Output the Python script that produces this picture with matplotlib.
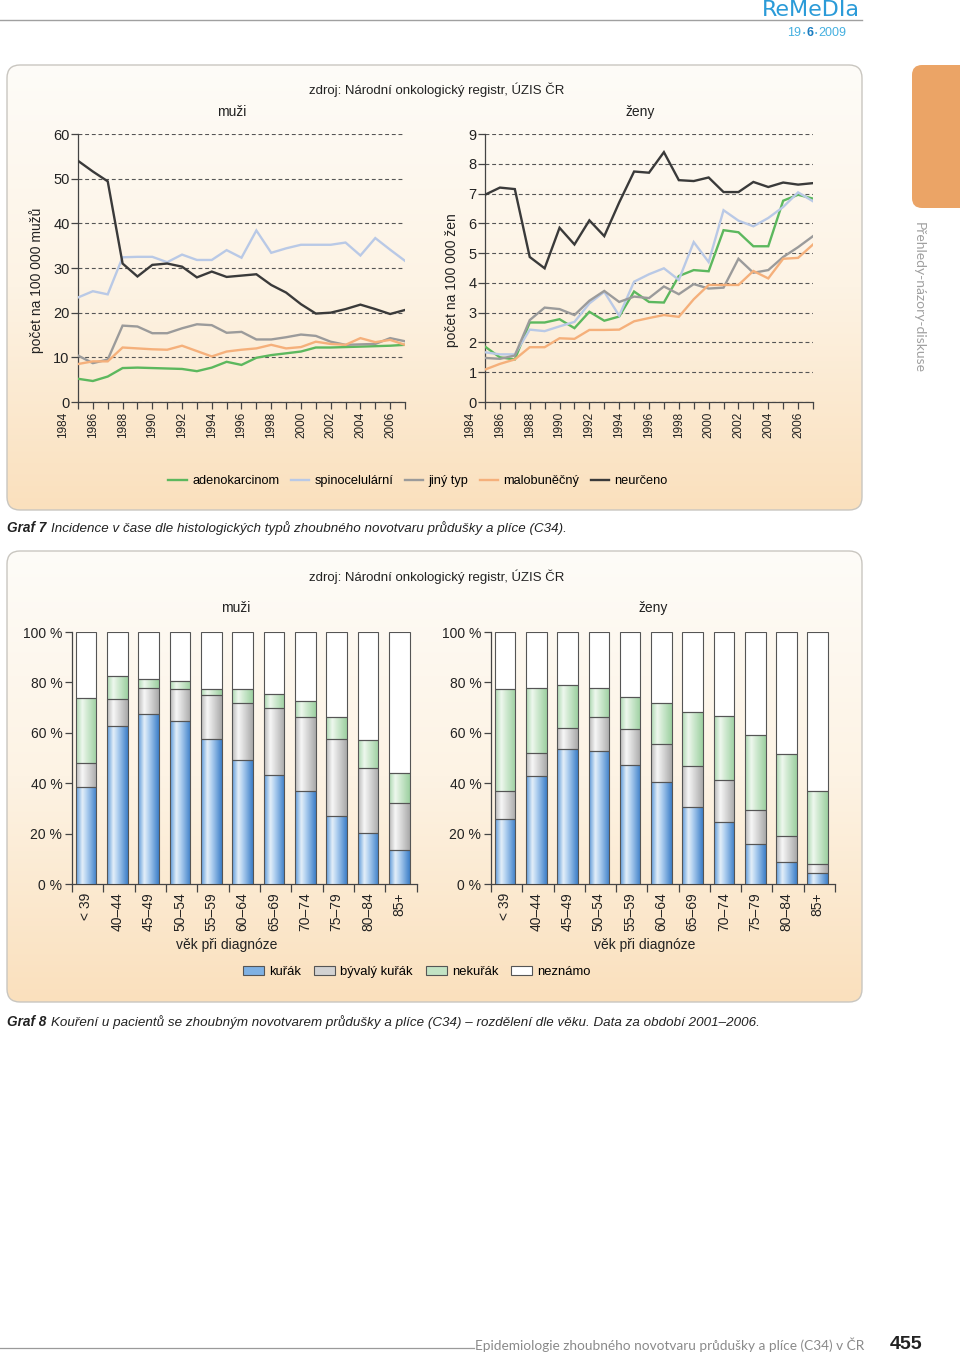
import numpy as np
import matplotlib
matplotlib.use('Agg')
import matplotlib.pyplot as plt
from matplotlib.patches import FancyBboxPatch, Patch
from matplotlib.lines import Line2D
from matplotlib.colors import LinearSegmentedColormap

plt.rcParams['font.family'] = ['Liberation Sans', 'DejaVu Sans']

# ---------------- DATA ----------------
years = list(range(1984, 2007))
year_labels = list(range(1984, 2007, 2))

men_adeno = [5.2, 4.7, 5.7, 7.6, 7.7, 7.6, 7.5, 7.4, 6.9, 7.7, 9.0, 8.3, 9.9, 10.5, 10.9, 11.3, 12.2, 12.2, 12.3, 12.4, 12.5, 12.6, 12.8]
men_spino = [23.4, 24.8, 24.1, 32.4, 32.5, 32.5, 31.3, 33.0, 31.8, 31.8, 34.0, 32.3, 38.4, 33.4, 34.4, 35.2, 35.2, 35.2, 35.7, 32.8, 36.7, 34.1, 31.6]
men_jiny = [10.4, 8.7, 9.5, 17.1, 16.9, 15.4, 15.4, 16.5, 17.4, 17.2, 15.5, 15.7, 14.0, 14.0, 14.5, 15.1, 14.8, 13.5, 12.8, 12.9, 13.0, 14.3, 13.6]
men_malob = [8.5, 9.1, 9.1, 12.2, 12.0, 11.8, 11.7, 12.6, 11.4, 10.2, 11.3, 11.7, 12.0, 12.8, 12.0, 12.3, 13.5, 13.0, 12.8, 14.3, 13.4, 13.9, 12.8]
men_neurc = [54.0, 51.6, 49.4, 31.0, 28.1, 30.7, 31.0, 30.3, 27.9, 29.2, 28.0, 28.3, 28.6, 26.2, 24.5, 21.9, 19.8, 20.0, 20.8, 21.8, 20.8, 19.7, 20.6]

women_adeno = [1.86, 1.5, 1.43, 2.67, 2.67, 2.78, 2.48, 3.03, 2.73, 2.87, 3.71, 3.36, 3.34, 4.23, 4.43, 4.39, 5.77, 5.7, 5.23, 5.23, 6.76, 6.96, 6.83]
women_spino = [1.67, 1.6, 1.6, 2.43, 2.38, 2.54, 2.69, 3.31, 3.7, 2.9, 4.04, 4.29, 4.49, 4.1, 5.37, 4.7, 6.44, 6.09, 5.9, 6.18, 6.55, 7.04, 6.74]
women_jiny = [1.48, 1.45, 1.56, 2.75, 3.17, 3.12, 2.92, 3.4, 3.73, 3.36, 3.54, 3.49, 3.88, 3.62, 3.96, 3.81, 3.84, 4.81, 4.34, 4.43, 4.87, 5.2, 5.57]
women_malob = [1.09, 1.28, 1.43, 1.84, 1.84, 2.14, 2.12, 2.42, 2.42, 2.43, 2.71, 2.82, 2.92, 2.86, 3.45, 3.93, 3.93, 3.93, 4.4, 4.15, 4.81, 4.84, 5.29]
women_neurc = [6.96, 7.2, 7.15, 4.87, 4.49, 5.85, 5.29, 6.1, 5.57, 6.7, 7.74, 7.7, 8.39, 7.45, 7.42, 7.54, 7.05, 7.05, 7.39, 7.22, 7.37, 7.3, 7.35]

hist_types = ['adenokarcinom', 'spinocelulární', 'jiný typ', 'malobuněčný', 'neurčeno']
hist_colors = ['#5cb85e', '#b9c9e6', '#9b9b9b', '#f5b07b', '#3a3a3a']

age_groups = ['< 39', '40–44', '45–49', '50–54', '55–59', '60–64', '65–69', '70–74', '75–79', '80–84', '85+']
men_smoker = [38.3, 62.6, 67.6, 64.5, 57.7, 49.4, 43.1, 36.9, 27.1, 20.1, 13.5]
men_former = [9.8, 11.0, 10.2, 12.8, 17.2, 22.6, 26.9, 29.2, 30.6, 26.0, 18.5]
men_nonsmoker = [25.6, 9.1, 3.7, 3.2, 2.6, 5.5, 5.2, 6.4, 8.4, 11.2, 11.9]
women_smoker = [25.6, 42.8, 53.4, 52.7, 47.4, 40.3, 30.6, 24.8, 15.7, 8.6, 4.5]
women_former = [11.4, 9.2, 8.7, 13.7, 14.3, 15.4, 16.4, 16.3, 13.5, 10.6, 3.4]
women_nonsmoker = [40.3, 25.8, 16.8, 11.5, 12.7, 16.3, 21.2, 25.7, 30.0, 32.2, 29.2]
smoke_cats = ['kuřák', 'bývalý kuřák', 'nekuřák', 'neznámo']

source_text = 'zdroj: Národní onkologický registr, ÚZIS ČR'

# ---------------- FIGURE ----------------
W, H = 960, 1355
fig = plt.figure(figsize=(W / 100, H / 100), dpi=100)
bg = fig.add_axes([0, 0, 1, 1], zorder=0)
bg.set_xlim(0, W)
bg.set_ylim(H, 0)
bg.axis('off')


def axes_px(l, t, r, b):
    ax = fig.add_axes([l / W, 1 - b / H, (r - l) / W, (b - t) / H], zorder=2)
    ax.patch.set_alpha(0)
    return ax


panel_cmap = LinearSegmentedColormap.from_list('panel', ['#fefcf8', '#fdf3e4', '#fae0bd'])


def panel(x0, y0, x1, y1):
    p = FancyBboxPatch((x0, y0), x1 - x0, y1 - y0,
                       boxstyle='round,pad=0,rounding_size=13',
                       fc='none', ec='#c9c6c0', lw=1.0, zorder=3)
    bg.add_patch(p)
    grad = np.linspace(0, 1, 256).reshape(-1, 1)
    im = bg.imshow(grad, extent=[x0, x1, y1, y0], cmap=panel_cmap,
                   aspect='auto', origin='upper', zorder=1)
    im.set_clip_path(p)


panel(7, 65, 862, 510)
panel(7, 551, 862, 1002)
bg.set_xlim(0, W)
bg.set_ylim(H, 0)

# header
bg.plot([0, 862], [20, 20], color='#a0a0a0', lw=1.0)
bg.text(860, 16, 'ReMeDIa', color='#2b9bd8', fontsize=16, ha='right', va='baseline',
        family=['DejaVu Sans'])
bg.text(787, 36, '19', color='#45b0e0', fontsize=9, ha='left', va='baseline')
bg.text(803.5, 34.5, '•', color='#45b0e0', fontsize=5, ha='center', va='baseline')
bg.text(806.5, 36, '6', color='#1b7cc0', fontsize=9, fontweight='bold', ha='left', va='baseline')
bg.text(815.5, 34.5, '•', color='#45b0e0', fontsize=5, ha='center', va='baseline')
bg.text(818, 36, '2009', color='#45b0e0', fontsize=9, ha='left', va='baseline')

# side tab
tab = FancyBboxPatch((912, 65), 70, 143, boxstyle='round,pad=0,rounding_size=10',
                     fc='#eba466', ec='none', zorder=2)
bg.add_patch(tab)
bg.text(919, 222, 'Přehledy-názory-diskuse', rotation=270, ha='center', va='top',
        fontsize=10, color='#a0a0a0', family=['Lato', 'DejaVu Sans'])

# footer
bg.plot([0, 474], [1348, 1348], color='#9a9a9a', lw=0.9)
bg.text(475, 1350, 'Epidemiologie zhoubného novotvaru průdušky a plíce (C34) v ČR',
        fontsize=9.8, color='#8a8a8a', ha='left', va='baseline', family=['Lato', 'DejaVu Sans'])
bg.text(890, 1349, '455', fontsize=14, fontweight='bold', color='#222222', ha='left', va='baseline')

# ---------------- TOP PANEL: line charts ----------------
bg.text(437, 90, source_text, fontsize=9.5, ha='center', va='center', color='#222')
bg.text(232, 112, 'muži', fontsize=10, ha='center', va='center', color='#222')
bg.text(640, 112, 'ženy', fontsize=10, ha='center', va='center', color='#222')
bg.text(37, 280, 'počet na 100 000 mužů', rotation=90, fontsize=10, ha='center', va='center', color='#222')
bg.text(452, 280, 'počet na 100 000 žen', rotation=90, fontsize=10, ha='center', va='center', color='#222')


def line_chart(ax, series, ymax, ystep):
    for vals, col in zip(series, hist_colors):
        ax.plot(years, vals, color=col, lw=1.7, solid_joinstyle='miter', zorder=3)
    ax.set_xlim(years[0], years[-1])
    ax.set_ylim(0, ymax)
    ax.set_yticks(np.arange(0, ymax + 0.1, ystep))
    ax.set_xticks(years)
    ax.set_xticklabels([])
    for s in ['top', 'right']:
        ax.spines[s].set_visible(False)
    for s in ['left', 'bottom']:
        ax.spines[s].set_color('#444444')
        ax.spines[s].set_linewidth(0.9)
    ax.tick_params(axis='y', length=5, width=0.9, color='#444444', labelsize=10.5, pad=1, labelcolor='#222')
    ax.tick_params(axis='x', length=5, width=0.9, color='#444444')
    ax.yaxis.grid(True, color='#555555', lw=0.8, ls=(0, (3.5, 2.5)))
    ax.set_axisbelow(True)
    for lab in year_labels:
        ax.annotate(str(lab), xy=(lab - 1, 0), xycoords=('data', 'axes fraction'),
                    xytext=(0, -7), textcoords='offset points', rotation=90,
                    ha='center', va='top', fontsize=8.5, color='#222', annotation_clip=False)


ax1 = axes_px(78, 134, 405, 402)
line_chart(ax1, [men_adeno, men_spino, men_jiny, men_malob, men_neurc], 60, 10)
ax2 = axes_px(485, 134, 813, 402)
line_chart(ax2, [women_adeno, women_spino, women_jiny, women_malob, women_neurc], 9, 1)

handles = [Line2D([], [], color=c, lw=1.7) for c in hist_colors]
fig.legend(handles, hist_types, loc='center', bbox_to_anchor=(418 / W, 1 - 481 / H),
           ncol=5, frameon=False, fontsize=9.2, handlelength=1.45, handletextpad=0.4,
           columnspacing=0.9)

# caption 7
bg.text(7, 528, 'Graf 7', fontsize=9.8, fontweight='bold', style='italic', ha='left', va='center', color='#222')
bg.text(51, 528, 'Incidence v čase dle histologických typů zhoubného novotvaru průdušky a plíce (C34).',
        fontsize=9.6, style='italic', ha='left', va='center', color='#222')

# ---------------- BOTTOM PANEL: stacked bars ----------------
bg.text(437, 577, source_text, fontsize=9.5, ha='center', va='center', color='#222')
bg.text(236, 608, 'muži', fontsize=10, ha='center', va='center', color='#222')
bg.text(653, 608, 'ženy', fontsize=10, ha='center', va='center', color='#222')
bg.text(227, 945, 'věk při diagnóze', fontsize=10, ha='center', va='center', color='#222')
bg.text(645, 945, 'věk při diagnóze', fontsize=10, ha='center', va='center', color='#222')

grad_maps = [
    LinearSegmentedColormap.from_list('b', [(0, '#5b98d8'), (0.3, '#e4eff9'), (0.55, '#a9cbee'), (1, '#3d7fc8')]),
    LinearSegmentedColormap.from_list('g', [(0, '#b8b8b8'), (0.3, '#f7f7f7'), (0.55, '#dcdcdc'), (1, '#a9a9a9')]),
    LinearSegmentedColormap.from_list('n', [(0, '#acd8b0'), (0.3, '#eef8ee'), (0.55, '#cfe9d0'), (1, '#9dd0a1')]),
    LinearSegmentedColormap.from_list('w', ['#ffffff', '#ffffff']),
]


def bar_chart(ax, smoker, former, nonsmoker):
    x = np.arange(len(age_groups))
    unknown = [100 - a - b - c for a, b, c in zip(smoker, former, nonsmoker)]
    bottom = np.zeros(len(x))
    grad = np.linspace(0, 1, 64).reshape(1, -1)
    for vals, cm in zip([smoker, former, nonsmoker, unknown], grad_maps):
        bars = ax.bar(x, vals, bottom=bottom, width=0.66, color='none',
                      edgecolor='#555555', lw=0.8, zorder=4)
        for r in bars:
            bx, by = r.get_x(), r.get_y()
            im = ax.imshow(grad, extent=[bx, bx + r.get_width(), by, by + r.get_height()],
                           cmap=cm, aspect='auto', zorder=3, interpolation='bilinear')
            im.set_clip_path(r)
        bottom = bottom + np.array(vals)
    ax.set_xlim(-0.45, 10.55)
    ax.set_ylim(0, 100)
    ax.set_aspect('auto')
    ax.set_yticks([0, 20, 40, 60, 80, 100])
    ax.set_yticklabels(['0 %', '20 %', '40 %', '60 %', '80 %', '100 %'])
    ax.set_xticks(np.arange(-0.45, 10.6, 1.0))
    ax.set_xticklabels([])
    for i, lab in enumerate(age_groups):
        ax.annotate(lab, xy=(i, 0), xycoords=('data', 'axes fraction'), xytext=(0, -6),
                    textcoords='offset points', rotation=90, ha='center', va='top',
                    fontsize=10, color='#222', annotation_clip=False)
    for s in ['top', 'right']:
        ax.spines[s].set_visible(False)
    for s in ['left', 'bottom']:
        ax.spines[s].set_color('#444444')
        ax.spines[s].set_linewidth(0.9)
    ax.tick_params(axis='y', length=5, width=0.9, color='#444444', labelsize=10, pad=2, labelcolor='#222')
    ax.tick_params(axis='x', length=6, width=0.9, color='#444444')


ax3 = axes_px(72, 632, 416.6, 884)
bar_chart(ax3, men_smoker, men_former, men_nonsmoker)
ax4 = axes_px(491, 632, 835, 884)
bar_chart(ax4, women_smoker, women_former, women_nonsmoker)

leg_cols = ['#7fb1e3', '#d2d2d2', '#c2e3c4', '#ffffff']
phandles = [Patch(facecolor=c, edgecolor='#555555', lw=0.8) for c in leg_cols]
fig.legend(phandles, smoke_cats, loc='center', bbox_to_anchor=(417 / W, 1 - 972 / H),
           ncol=4, frameon=False, fontsize=9.4, handlelength=1.6, handleheight=0.65,
           handletextpad=0.4, columnspacing=1.0)

# caption 8
bg.text(7, 1022, 'Graf 8', fontsize=9.8, fontweight='bold', style='italic', ha='left', va='center', color='#222')
bg.text(51, 1022, 'Kouření u pacientů se zhoubným novotvarem průdušky a plíce (C34) – rozdělení dle věku. Data za období 2001–2006.',
        fontsize=9.6, style='italic', ha='left', va='center', color='#222')

fig.savefig('out.png', dpi=100)
